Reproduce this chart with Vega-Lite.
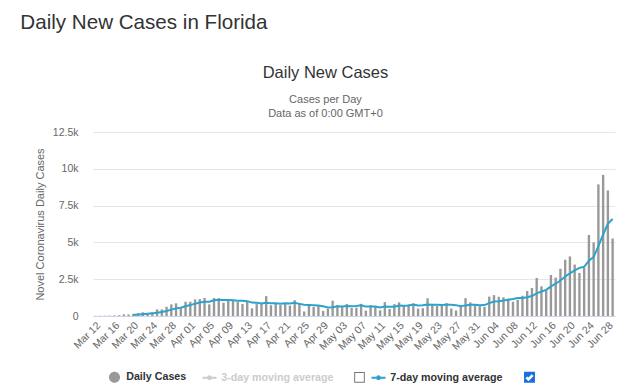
{
  "$schema": "https://vega.github.io/schema/vega-lite/v6.json",
  "background": "white",
  "padding": {"left": 20, "top": 12, "right": 5, "bottom": 5},
  "config": {"view": {"stroke": null}, "font": "Liberation Sans"},
  "title": {"text": "Daily New Cases in Florida", "anchor": "start", "fontSize": 20.6, "fontWeight": "normal", "color": "#333333", "dx": -14, "offset": 31},
  "data": {"values": [
    {"date": "2020-03-12", "cases": 10}, {"date": "2020-03-13", "cases": 15}, {"date": "2020-03-14", "cases": 20}, {"date": "2020-03-15", "cases": 25},
    {"date": "2020-03-16", "cases": 35}, {"date": "2020-03-17", "cases": 50}, {"date": "2020-03-18", "cases": 110}, {"date": "2020-03-19", "cases": 100},
    {"date": "2020-03-20", "cases": 150}, {"date": "2020-03-21", "cases": 190}, {"date": "2020-03-22", "cases": 250}, {"date": "2020-03-23", "cases": 200},
    {"date": "2020-03-24", "cases": 250}, {"date": "2020-03-25", "cases": 450}, {"date": "2020-03-26", "cases": 450}, {"date": "2020-03-27", "cases": 630},
    {"date": "2020-03-28", "cases": 790}, {"date": "2020-03-29", "cases": 860}, {"date": "2020-03-30", "cases": 520}, {"date": "2020-03-31", "cases": 970},
    {"date": "2020-04-01", "cases": 970}, {"date": "2020-04-02", "cases": 1130}, {"date": "2020-04-03", "cases": 1150}, {"date": "2020-04-04", "cases": 1220},
    {"date": "2020-04-05", "cases": 790}, {"date": "2020-04-06", "cases": 1220}, {"date": "2020-04-07", "cases": 1210}, {"date": "2020-04-08", "cases": 900},
    {"date": "2020-04-09", "cases": 1100}, {"date": "2020-04-10", "cases": 1080}, {"date": "2020-04-11", "cases": 950}, {"date": "2020-04-12", "cases": 810},
    {"date": "2020-04-13", "cases": 1010}, {"date": "2020-04-14", "cases": 520}, {"date": "2020-04-15", "cases": 810}, {"date": "2020-04-16", "cases": 810},
    {"date": "2020-04-17", "cases": 1350}, {"date": "2020-04-18", "cases": 733}, {"date": "2020-04-19", "cases": 822}, {"date": "2020-04-20", "cases": 744},
    {"date": "2020-04-21", "cases": 811}, {"date": "2020-04-22", "cases": 707}, {"date": "2020-04-23", "cases": 1072}, {"date": "2020-04-24", "cases": 885},
    {"date": "2020-04-25", "cases": 306}, {"date": "2020-04-26", "cases": 689}, {"date": "2020-04-27", "cases": 610}, {"date": "2020-04-28", "cases": 708},
    {"date": "2020-04-29", "cases": 347}, {"date": "2020-04-30", "cases": 497}, {"date": "2020-05-01", "cases": 1038}, {"date": "2020-05-02", "cases": 735},
    {"date": "2020-05-03", "cases": 615}, {"date": "2020-05-04", "cases": 819}, {"date": "2020-05-05", "cases": 542}, {"date": "2020-05-06", "cases": 563},
    {"date": "2020-05-07", "cases": 826}, {"date": "2020-05-08", "cases": 371}, {"date": "2020-05-09", "cases": 735}, {"date": "2020-05-10", "cases": 662},
    {"date": "2020-05-11", "cases": 386}, {"date": "2020-05-12", "cases": 941}, {"date": "2020-05-13", "cases": 479}, {"date": "2020-05-14", "cases": 808},
    {"date": "2020-05-15", "cases": 928}, {"date": "2020-05-16", "cases": 673}, {"date": "2020-05-17", "cases": 777}, {"date": "2020-05-18", "cases": 854},
    {"date": "2020-05-19", "cases": 502}, {"date": "2020-05-20", "cases": 527}, {"date": "2020-05-21", "cases": 1204}, {"date": "2020-05-22", "cases": 776},
    {"date": "2020-05-23", "cases": 676}, {"date": "2020-05-24", "cases": 740}, {"date": "2020-05-25", "cases": 879}, {"date": "2020-05-26", "cases": 509},
    {"date": "2020-05-27", "cases": 379}, {"date": "2020-05-28", "cases": 651}, {"date": "2020-05-29", "cases": 1212}, {"date": "2020-05-30", "cases": 927},
    {"date": "2020-05-31", "cases": 739}, {"date": "2020-06-01", "cases": 667}, {"date": "2020-06-02", "cases": 617}, {"date": "2020-06-03", "cases": 1317},
    {"date": "2020-06-04", "cases": 1419}, {"date": "2020-06-05", "cases": 1305}, {"date": "2020-06-06", "cases": 1270}, {"date": "2020-06-07", "cases": 1180},
    {"date": "2020-06-08", "cases": 966}, {"date": "2020-06-09", "cases": 1096}, {"date": "2020-06-10", "cases": 1371}, {"date": "2020-06-11", "cases": 1698},
    {"date": "2020-06-12", "cases": 1902}, {"date": "2020-06-13", "cases": 2581}, {"date": "2020-06-14", "cases": 2016}, {"date": "2020-06-15", "cases": 1758},
    {"date": "2020-06-16", "cases": 2783}, {"date": "2020-06-17", "cases": 2610}, {"date": "2020-06-18", "cases": 3207}, {"date": "2020-06-19", "cases": 3822},
    {"date": "2020-06-20", "cases": 4049}, {"date": "2020-06-21", "cases": 3494}, {"date": "2020-06-22", "cases": 2926}, {"date": "2020-06-23", "cases": 3289},
    {"date": "2020-06-24", "cases": 5508}, {"date": "2020-06-25", "cases": 5004}, {"date": "2020-06-26", "cases": 8942}, {"date": "2020-06-27", "cases": 9585},
    {"date": "2020-06-28", "cases": 8530}, {"date": "2020-06-29", "cases": 5266}
  ]},
  "vconcat": [
    {
      "width": 522,
      "height": 184,
      "title": {
        "text": "Daily New Cases",
        "subtitle": ["Cases per Day", "Data as of 0:00 GMT+0"],
        "anchor": "middle",
        "frame": "bounds",
        "fontSize": 16.5,
        "fontWeight": "normal",
        "color": "#333333",
        "subtitleFontSize": 11,
        "subtitleColor": "#666666",
        "subtitlePadding": 13,
        "subtitleLineHeight": 14,
        "offset": 8
      },
      "encoding": {
        "x": {
          "field": "date",
          "type": "ordinal",
          "scale": {"paddingInner": 0.5, "paddingOuter": 0.25},
          "axis": {
            "title": null,
            "values": ["2020-03-12", "2020-03-16", "2020-03-20", "2020-03-24", "2020-03-28", "2020-04-01", "2020-04-05", "2020-04-09", "2020-04-13", "2020-04-17", "2020-04-21", "2020-04-25", "2020-04-29", "2020-05-03", "2020-05-07", "2020-05-11", "2020-05-15", "2020-05-19", "2020-05-23", "2020-05-27", "2020-05-31", "2020-06-04", "2020-06-08", "2020-06-12", "2020-06-16", "2020-06-20", "2020-06-24", "2020-06-28"],
            "labelExpr": "utcFormat(toDate(datum.value), '%b %d')",
            "labelAngle": -45,
            "labelFontSize": 10.5,
            "labelColor": "#666666",
            "labelPadding": 4,
            "ticks": false,
            "domainColor": "#ccd6eb",
            "grid": false
          }
        }
      },
      "layer": [
        {
          "mark": {"type": "bar", "color": "#999999"},
          "encoding": {
            "y": {
              "field": "cases",
              "type": "quantitative",
              "scale": {"domain": [0, 12500], "nice": false},
              "axis": {
                "title": "Novel Coronavirus Daily Cases",
                "values": [0, 2500, 5000, 7500, 10000, 12500],
                "labelExpr": "datum.value == 0 ? '0' : datum.value / 1000 + 'k'",
                "labelOverlap": false,
                "ticks": false,
                "domain": false,
                "labelPadding": 15,
                "labelFontSize": 10.5,
                "labelColor": "#666666",
                "titlePadding": 7,
                "titleFontSize": 11,
                "titleFontWeight": "normal",
                "titleColor": "#666666",
                "gridColor": "#e6e6e6"
              }
            },
            "color": {
              "datum": "Daily Cases",
              "type": "nominal",
              "scale": {
                "domain": ["Daily Cases", "3-day moving average", "box3", "7-day moving average", "box7"],
                "range": ["#999999", "#cccccc", "#767676", "#2ba3cc", "#1a6fe0"]
              },
              "legend": {
                "orient": "none",
                "legendX": 14.5,
                "legendY": 238,
                "padding": 0,
                "direction": "horizontal",
                "columns": 5,
                "title": null,
                "labelExpr": "indexof(datum.value, 'box') == 0 ? '' : datum.label",
                "labelFontWeight": "bold",
                "labelFontSize": 10.7,
                "labelColor": {"expr": "datum.value == '3-day moving average' ? '#cccccc' : '#333333'"},
                "symbolType": {"expr": "datum.value == 'Daily Cases' ? 'M-0.79,0A0.79,0.79,0,1,1,0.79,0A0.79,0.79,0,1,1,-0.79,0Z' : datum.value == '3-day moving average' ? 'M-3.21,0h0.001ZM-1,-0.14H1V0.14H-1ZM-0.34,0A0.34,0.34,0,1,1,0.34,0A0.34,0.34,0,1,1,-0.34,0Z' : datum.value == 'box3' ? 'M-3.7,0h0.001ZM-0.76,-0.76H0.76V0.76H-0.76ZM-0.62,-0.62V0.62H0.62V-0.62Z' : datum.value == 'box7' ? 'M-3.74,0h0.001ZM-0.78,-0.78H0.78V0.78H-0.78ZM-0.577,0.127L-0.15,0.554L0.577,-0.173L0.323,-0.427L-0.15,0.046L-0.323,-0.127Z' : 'M-1,-0.14H1V0.14H-1ZM-0.34,0A0.34,0.34,0,1,1,0.34,0A0.34,0.34,0,1,1,-0.34,0Z'"},
                "symbolStrokeWidth": 0,
                "symbolSize": 196,
                "columnPadding": 0,
                "labelOffset": 4.7
              }
            }
          }
        },
        {
          "transform": [
            {"window": [{"op": "mean", "field": "cases", "as": "ma7"}], "frame": [-6, 0], "sort": [{"field": "date"}]},
            {"filter": "datum.date >= '2020-03-20'"}
          ],
          "mark": {"type": "line", "color": "#2ba3cc", "strokeWidth": 2},
          "encoding": {
            "y": {
              "field": "ma7",
              "type": "quantitative",
              "axis": {
                "title": "Novel Coronavirus Daily Cases",
                "values": [0, 2500, 5000, 7500, 10000, 12500],
                "labelExpr": "datum.value == 0 ? '0' : datum.value / 1000 + 'k'",
                "labelOverlap": false,
                "ticks": false,
                "domain": false,
                "labelPadding": 15,
                "labelFontSize": 10.5,
                "labelColor": "#666666",
                "titlePadding": 7,
                "titleFontSize": 11,
                "titleFontWeight": "normal",
                "titleColor": "#666666",
                "gridColor": "#e6e6e6"
              }
            },
            "color": {"datum": "7-day moving average", "type": "nominal"}
          }
        }
      ]
    }
  ]
}
